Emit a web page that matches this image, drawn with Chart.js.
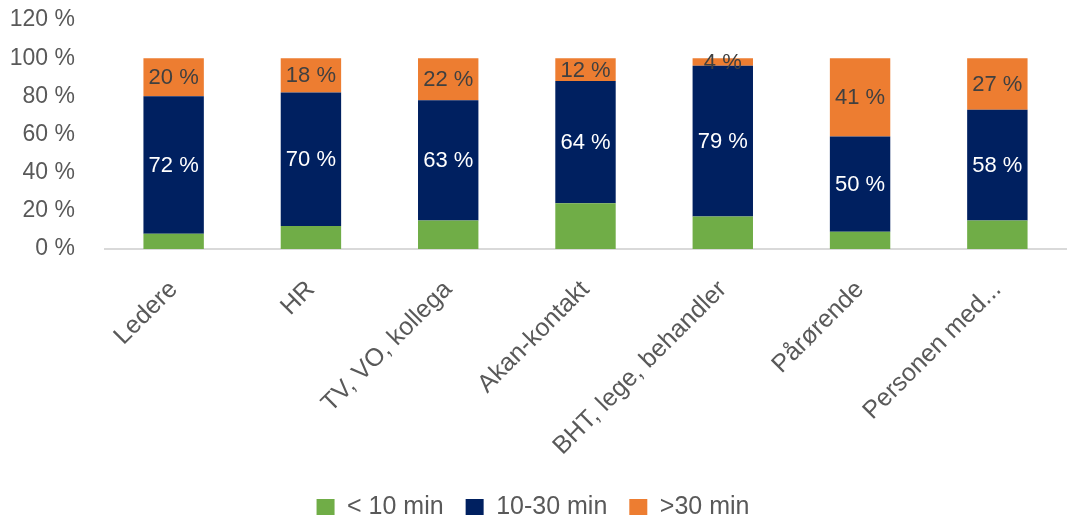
<!DOCTYPE html>
<html>
<head>
<meta charset="utf-8">
<script src="https://cdn.jsdelivr.net/npm/chart.js@4/dist/chart.umd.min.js"></script>
<style>
    html, body { margin: 0; padding: 0; background: #ffffff; }
    #wrap { width: 1073px; height: 521px; }
</style>
</head>
<body>
<div id="wrap"><canvas id="time_chart"></canvas></div>
<script>
const categories = ['Ledere', 'HR', 'TV, VO, kollega', 'Akan-kontakt', 'BHT, lege, behandler', 'Pårørende', 'Personen med...']
const under10 = [8, 12, 15, 24, 17, 9, 15]
const between10and30 = [72, 70, 63, 64, 79, 50, 58]
const over30 = [20, 18, 22, 12, 4, 41, 27]
const yTicks = [0, 20, 40, 60, 80, 100, 120]

const fontFamily = "'Liberation Sans', Arial, sans-serif"
const textGrey = '#595959'

// Writes the percentage in the middle of each labelled segment
const segmentLabels = {
    id: 'segmentLabels',
    afterDatasetsDraw(chart) {
        const ctx = chart.ctx
        ctx.save()
        ctx.font = `22px ${fontFamily}`
        ctx.textAlign = 'center'
        ctx.textBaseline = 'middle'
        chart.data.datasets.forEach((ds, i) => {
            if (!ds.labelColor) return
            const meta = chart.getDatasetMeta(i)
            meta.data.forEach((bar, j) => {
                const { x, y, base } = bar.getProps(['x', 'y', 'base'], true)
                ctx.fillStyle = ds.labelColor
                ctx.fillText(`${ds.data[j]} %`, x, (y + base) / 2 + 1)
            })
        })
        ctx.restore()
    }
}

const data = {
    labels: categories,
    datasets: [
        { label: '< 10 min', data: under10, backgroundColor: '#70ad47' },
        { label: '10-30 min', data: between10and30, backgroundColor: '#002060', labelColor: '#ffffff' },
        { label: '>30 min', data: over30, backgroundColor: '#ed7d31', labelColor: '#404040' }
    ]
}

const config = {
    type: 'bar',
    data: data,
    options: {
        responsive: true,
        maintainAspectRatio: false,
        animation: false,
        datasets: {
            bar: { categoryPercentage: 1, barPercentage: 0.44 }
        },
        layout: { padding: { top: 20, right: 7, bottom: -8.5, left: 0 } },
        scales: {
            x: {
                stacked: true,
                grid: { display: false },
                border: { display: true, color: '#d9d9d9', width: 2 },
                ticks: {
                    color: textGrey,
                    font: { family: fontFamily, size: 25 },
                    maxRotation: 45,
                    minRotation: 45,
                    autoSkip: false,
                    padding: 18
                },
                afterFit: (scale) => { scale.height = 223.5 }
            },
            y: {
                stacked: true,
                min: 0,
                max: 120,
                afterBuildTicks: (scale) => { scale.ticks = yTicks.map(v => ({ value: v })) },
                grid: { display: false, drawTicks: false },
                border: { display: false },
                ticks: {
                    color: textGrey,
                    font: { family: fontFamily, size: 23 },
                    padding: 30,
                    callback: (v) => `${v} %`
                },
                // keep the wide label gap from pushing the plot down
                afterFit: (scale) => {
                    scale.width = 105
                    scale.paddingTop = 12
                    scale.paddingBottom = 12
                }
            }
        },
        plugins: {
            legend: {
                position: 'bottom',
                labels: {
                    color: textGrey,
                    font: { family: fontFamily, size: 25 },
                    boxWidth: 18,
                    boxHeight: 16,
                    padding: 22,
                    useBorderRadius: false
                }
            },
            tooltip: { enabled: false }
        }
    },
    plugins: [segmentLabels]
}

const ctx = document.getElementById('time_chart').getContext('2d')
const timeChart = new Chart(ctx, config)
</script>
</body>
</html>
